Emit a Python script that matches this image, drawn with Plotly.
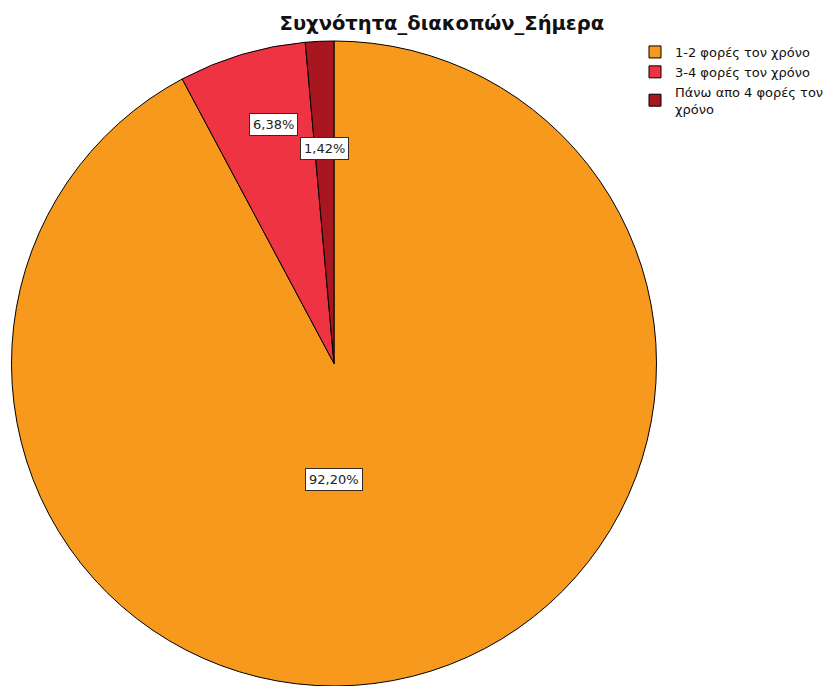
import math
import plotly.graph_objects as go

# Frequency of holidays today (percent of respondents)
categories = ["1-2 φορές τον χρόνο", "3-4 φορές τον χρόνο", "Πάνω απο 4 φορές τον<br>χρόνο"]
percentages = [92.20, 6.38, 1.42]
value_labels = ["92,20%", "6,38%", "1,42%"]
colors = ["#F7991D", "#EE3342", "#A8171F"]

FONT = "DejaVu Sans, Verdana, sans-serif"

W, H = 840, 686
M_T, M_B, M_L, M_R = 41, 0, 0, 0
plot_w, plot_h = W - M_L - M_R, H - M_T - M_B

# pie placement (paper coordinates)
cx_px = 334.0
radius_px = plot_h / 2.0
dom_x = [(cx_px - radius_px) / plot_w, (cx_px + radius_px) / plot_w]
cx = (dom_x[0] + dom_x[1]) / 2.0
cy = 0.5

# label placement: fraction of radius, and angle nudge (deg) from the slice mid-angle
label_radius = [0.36, 0.765, 0.666]
label_angle = [180.0, None, None]
label_nudge = [0.0, 2.5, 0.0]

fig = go.Figure(
    go.Pie(
        labels=categories,
        values=percentages,
        sort=False,
        direction="clockwise",
        rotation=0,
        marker=dict(colors=colors, line=dict(color="#000000", width=1)),
        textinfo="none",
        hoverinfo="label+percent",
        domain=dict(x=dom_x, y=[0, 1]),
    )
)

total = sum(percentages)
cum = 0.0
annotations = []
for i, v in enumerate(percentages):
    mid = (cum + v / 2.0) / total * 360.0  # clockwise from 12 o'clock
    cum += v
    ang = label_angle[i] if label_angle[i] is not None else mid + label_nudge[i]
    rad = math.radians(ang)
    dx = radius_px * label_radius[i] * math.sin(rad)
    dy = radius_px * label_radius[i] * math.cos(rad)
    annotations.append(
        dict(
            x=cx + dx / plot_w,
            y=cy + dy / plot_h,
            xref="paper",
            yref="paper",
            text=value_labels[i],
            showarrow=False,
            font=dict(family=FONT, size=13, color="#222222"),
            bgcolor="#FFFFFF",
            bordercolor="#3a2a20",
            borderwidth=1,
            borderpad=3,
            xanchor="center",
            yanchor="middle",
        )
    )

fig.update_layout(
    width=W,
    height=H,
    margin=dict(l=M_L, r=M_R, t=M_T, b=M_B),
    paper_bgcolor="#FFFFFF",
    plot_bgcolor="#FFFFFF",
    title=dict(
        text="<b>Συχνότητα_διακοπών_Σήμερα</b>",
        x=0.526,
        xanchor="center",
        y=1 - 23 / H,
        yanchor="middle",
        font=dict(family=FONT, size=19.5, color="#111111"),
    ),
    legend=dict(
        x=635 / W,
        xanchor="left",
        y=1.0 + 4 / plot_h,
        yanchor="top",
        font=dict(family=FONT, size=13, color="#111111"),
        bgcolor="rgba(0,0,0,0)",
        tracegroupgap=0,
    ),
    annotations=annotations,
    font=dict(family=FONT),
)

fig.write_html("out.html")
